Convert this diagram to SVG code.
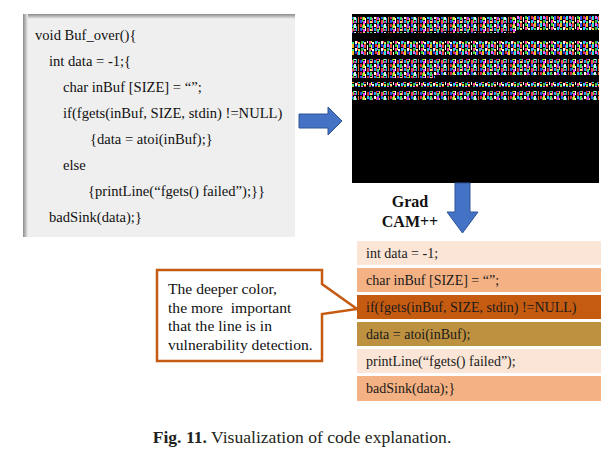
<svg xmlns="http://www.w3.org/2000/svg" width="609" height="450" viewBox="0 0 609 450">
<style>
.code{font-family:"Liberation Serif","Times New Roman",serif;font-size:14.6px;fill:#111;}
.row{font-family:"Liberation Serif","Times New Roman",serif;font-size:14px;fill:#1a1a1a;}
.call{font-family:"Liberation Serif","Times New Roman",serif;font-size:15.6px;fill:#111;}
.lbl{font-family:"Liberation Serif","Times New Roman",serif;font-size:16px;font-weight:bold;fill:#111;}
.cap{font-family:"Liberation Serif","Times New Roman",serif;font-size:17.6px;fill:#231f20;}
.arrow{fill:#4472c4;stroke:#2f5597;stroke-width:1;}
</style>
<defs>
<linearGradient id="gTop" x1="0" y1="0" x2="0" y2="1">
<stop offset="0" stop-color="#8a8a8a"/><stop offset="1" stop-color="#efefef"/>
</linearGradient>
<linearGradient id="gLeft" x1="0" y1="0" x2="1" y2="0">
<stop offset="0" stop-color="#8a8a8a"/><stop offset="1" stop-color="#efefef"/>
</linearGradient>
<filter id="soft" x="0" y="0" width="1" height="1">
<feGaussianBlur stdDeviation="0.6"/>
</filter>
<pattern id="noiseA" patternUnits="userSpaceOnUse" width="30" height="8">
<rect width="30" height="8" fill="#000"/>
<rect x="0" y="0" width="2" height="3" fill="#e02050"/>
<rect x="0" y="4" width="2" height="3" fill="#2050f0"/>
<rect x="2" y="1" width="1" height="5" fill="#30c040"/>
<rect x="3" y="0" width="2" height="4" fill="#f0e040"/>
<rect x="3" y="5" width="2" height="3" fill="#ff40ff"/>
<rect x="5" y="2" width="1" height="5" fill="#ffffff"/>
<rect x="7" y="0" width="2" height="3" fill="#20d0e0"/>
<rect x="7" y="4" width="2" height="4" fill="#d03030"/>
<rect x="9" y="1" width="1" height="6" fill="#3040ff"/>
<rect x="10" y="0" width="2" height="4" fill="#40e060"/>
<rect x="10" y="5" width="2" height="2" fill="#f0f060"/>
<rect x="12" y="2" width="1" height="5" fill="#ff50c0"/>
<rect x="14" y="0" width="2" height="3" fill="#ffffff"/>
<rect x="14" y="4" width="2" height="3" fill="#20a0ff"/>
<rect x="16" y="1" width="1" height="6" fill="#e04020"/>
<rect x="17" y="0" width="2" height="4" fill="#a040ff"/>
<rect x="17" y="5" width="2" height="3" fill="#30e0a0"/>
<rect x="19" y="2" width="1" height="4" fill="#f0d030"/>
<rect x="21" y="0" width="2" height="3" fill="#2060ff"/>
<rect x="21" y="4" width="2" height="4" fill="#ff3070"/>
<rect x="23" y="1" width="1" height="6" fill="#40f040"/>
<rect x="24" y="0" width="2" height="4" fill="#e0e0ff"/>
<rect x="24" y="5" width="2" height="2" fill="#c030c0"/>
<rect x="26" y="2" width="1" height="5" fill="#20c0c0"/>
<rect x="28" y="0" width="1" height="7" fill="#f06030"/>
</pattern>
<pattern id="noiseB" patternUnits="userSpaceOnUse" width="26" height="7" patternTransform="translate(5 2)">
<rect width="26" height="7" fill="#000"/>
<rect x="0" y="0" width="2" height="3" fill="#30d050"/>
<rect x="0" y="4" width="2" height="3" fill="#ff40a0"/>
<rect x="2" y="1" width="1" height="5" fill="#f0f040"/>
<rect x="3" y="0" width="2" height="4" fill="#3050ff"/>
<rect x="3" y="5" width="2" height="2" fill="#ffffff"/>
<rect x="6" y="0" width="2" height="3" fill="#e03030"/>
<rect x="6" y="4" width="2" height="3" fill="#20d0f0"/>
<rect x="8" y="1" width="1" height="5" fill="#c040ff"/>
<rect x="9" y="0" width="2" height="4" fill="#f0c020"/>
<rect x="9" y="5" width="2" height="2" fill="#40f080"/>
<rect x="12" y="0" width="2" height="3" fill="#2040e0"/>
<rect x="12" y="4" width="2" height="3" fill="#f0f0f0"/>
<rect x="14" y="1" width="1" height="5" fill="#ff3050"/>
<rect x="15" y="0" width="2" height="4" fill="#30e0e0"/>
<rect x="15" y="5" width="2" height="2" fill="#e0e040"/>
<rect x="18" y="0" width="2" height="3" fill="#ff60ff"/>
<rect x="18" y="4" width="2" height="3" fill="#40c040"/>
<rect x="20" y="1" width="1" height="5" fill="#2080ff"/>
<rect x="21" y="0" width="2" height="4" fill="#f04040"/>
<rect x="21" y="5" width="2" height="2" fill="#f0f080"/>
<rect x="24" y="1" width="1" height="5" fill="#ffffff"/>
</pattern>
</defs>

<rect width="609" height="450" fill="#ffffff"/>

<g id="code-box">
<rect x="23" y="14" width="272" height="223" fill="#efefef"/>
<rect x="23" y="14" width="272" height="5" fill="url(#gTop)"/>
<rect x="23" y="14" width="5" height="223" fill="url(#gLeft)"/>
<text class="code" x="35" y="40">void Buf_over(){</text>
<text class="code" x="49" y="66">int data = -1;{</text>
<text class="code" x="63" y="92">char inBuf [SIZE] = “”;</text>
<text class="code" x="63" y="118">if(fgets(inBuf, SIZE, stdin) !=NULL)</text>
<text class="code" x="90" y="144">{data = atoi(inBuf);}</text>
<text class="code" x="63" y="170">else</text>
<text class="code" x="88" y="196">{printLine(“fgets() failed”);}}</text>
<text class="code" x="49" y="222">badSink(data);}</text>
</g>

<g id="image-map">
<rect x="352" y="14" width="247" height="169" fill="#000"/>
<g filter="url(#soft)">
<rect x="352" y="17" width="165" height="16" fill="url(#noiseA)"/>
<rect x="517" y="16" width="82" height="14" fill="url(#noiseB)"/>
<rect x="352" y="41" width="247" height="14" fill="url(#noiseB)"/>
<rect x="352" y="59" width="83" height="19" fill="url(#noiseA)"/>
<rect x="435" y="59" width="164" height="16" fill="url(#noiseA)"/>
<rect x="352" y="82" width="247" height="5" fill="url(#noiseB)"/>
<rect x="352" y="91" width="247" height="9" fill="url(#noiseA)"/>
</g>
</g>

<g id="connectors">
<polygon class="arrow" points="299,114 328,114 328,107 342,121 328,135 328,128 299,128"/>
<polygon class="arrow" points="455,183 470,183 470,212 478,212 462.5,233 447,212 455,212"/>
</g>

<g id="gradcam-label">
<text class="lbl" x="410" y="207" text-anchor="middle">Grad</text>
<text class="lbl" x="410" y="227" text-anchor="middle">CAM++</text>
</g>

<g id="heat-rows">
<rect x="357" y="241" width="244" height="24" fill="#fbe5d6"/>
<text class="row" x="366" y="258">int data = -1;</text>
<rect x="357" y="268" width="244" height="24" fill="#f4b183"/>
<text class="row" x="366" y="285">char inBuf [SIZE] = “”;</text>
<rect x="357" y="295" width="244" height="24" fill="#c55a11"/>
<text class="row" x="366" y="312">if(fgets(inBuf, SIZE, stdin) !=NULL)</text>
<rect x="357" y="322" width="244" height="24" fill="#bd9140"/>
<text class="row" x="366" y="339">data = atoi(inBuf);</text>
<rect x="357" y="349" width="244" height="24" fill="#fbe5d6"/>
<text class="row" x="366" y="366">printLine(“fgets() failed”);</text>
<rect x="357" y="376" width="244" height="25" fill="#f4b183"/>
<text class="row" x="366" y="393">badSink(data);}</text>
</g>

<g id="callout">
<path d="M157,270 L322,270 L322,284 L357,309 L322,314 L322,361 L157,361 Z" fill="#ffffff" stroke="#c55a11" stroke-width="2.5" stroke-linejoin="miter"/>
<text class="call" x="168" y="294">The deeper color,</text>
<text class="call" x="168" y="313" xml:space="preserve">the more  important</text>
<text class="call" x="168" y="331">that the line is in</text>
<text class="call" x="168" y="350">vulnerability detection.</text>
</g>

<g id="caption">
<text class="cap" x="302" y="443" text-anchor="middle"><tspan font-weight="bold">Fig. 11.</tspan> Visualization of code explanation.</text>
</g>
</svg>
